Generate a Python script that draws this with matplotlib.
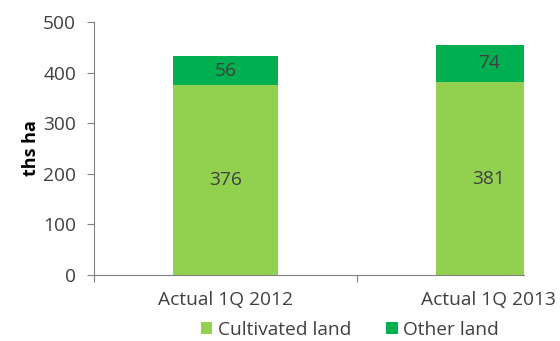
import numpy as np
import matplotlib.pyplot as plt

# --- data ---
categories = ["Actual 1Q 2012", "Actual 1Q 2013"]
cultivated = [376, 381]
other = [56, 74]

plt.rcParams['font.family'] = ['Open Sans', 'DejaVu Sans']
txt = '#404040'
fs = 13.8

fig = plt.figure(figsize=(5.6, 3.41), dpi=100)
ax = fig.add_axes([0.168, 0.1935, 0.768, 0.742])

x = np.arange(len(categories))
b1 = ax.bar(x, cultivated, width=0.4, color='#92D050', label='Cultivated land', zorder=2)
b2 = ax.bar(x, other, width=0.4, bottom=cultivated, color='#00B050', label='Other land', zorder=2)

# value labels in the middle of each segment
for i in range(len(categories)):
    ax.text(x[i], cultivated[i] / 2, str(cultivated[i]), ha='center', va='center',
            fontsize=fs, color=txt)
    ax.text(x[i], cultivated[i] + other[i] / 2, str(other[i]), ha='center', va='center',
            fontsize=fs, color=txt)

ax.set_ylim(0, 500)
ax.set_yticks(range(0, 501, 100))
ax.set_xlim(-0.5, 1.135)

# ticks between categories, labels under bar centres
ax.set_xticks([-0.5, 0.5])
ax.set_xticklabels([])
ax.tick_params(axis='x', direction='out', length=5, color='#808080')
ax.tick_params(axis='y', direction='out', length=5, color='#808080',
               labelsize=fs, labelcolor=txt, pad=8)
for i, c in enumerate(categories):
    ax.text(x[i], -0.1, c, transform=ax.get_xaxis_transform(), ha='center', va='center',
            fontsize=fs, color=txt, clip_on=False)

for s in ['top', 'right']:
    ax.spines[s].set_visible(False)
ax.spines['left'].set_color('#808080')
ax.spines['bottom'].set_color('#808080')

ax.set_ylabel('ths ha', fontsize=13, fontweight='bold', color='black', labelpad=2)

fig.legend(handles=[b1, b2], loc='center', bbox_to_anchor=(0.625, 0.033), ncol=2,
           frameon=False, fontsize=fs, handlelength=0.6, handleheight=0.6,
           handletextpad=0.3, columnspacing=1.8, labelcolor=txt)

fig.savefig('out.png', dpi=100)
